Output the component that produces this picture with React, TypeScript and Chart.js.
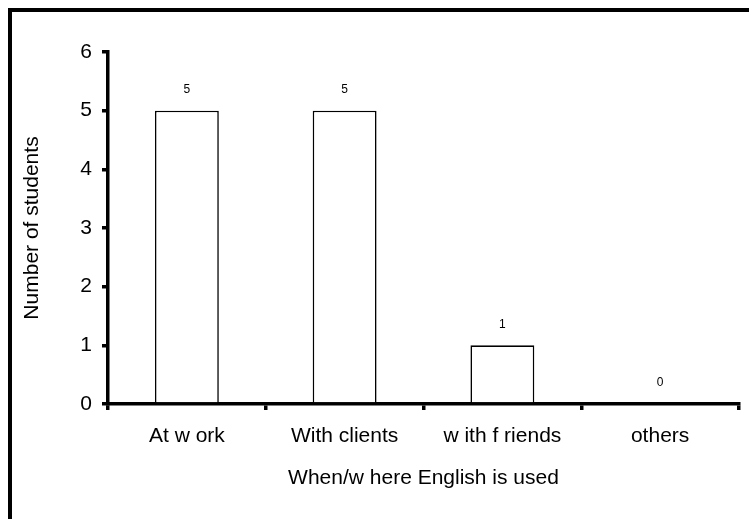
import React, { useEffect, useRef } from "react";
import { Chart, registerables } from "chart.js";

Chart.register(...registerables);

const categories = ["At w ork", "With clients", "w ith f riends", "others"];
const students = [5, 5, 1, 0];
const yMin = 0;
const yMax = 6;
const yStep = 1;
const xTitle = "When/w here English is used";
const yTitle = "Number of students";

const FONT = "'Liberation Sans', Arial, Helvetica, sans-serif";

const valueLabels = {
  id: "valueLabels",
  afterDatasetsDraw(chart: any) {
    const ctx = chart.ctx;
    const meta = chart.getDatasetMeta(0);
    ctx.save();
    ctx.font = `12px ${FONT}`;
    ctx.fillStyle = "#000";
    ctx.textAlign = "center";
    ctx.textBaseline = "middle";
    meta.data.forEach((bar: any, i: number) => {
      ctx.fillText(String(students[i]), bar.x, bar.y - 21);
    });
    ctx.restore();
  },
};

export default function App() {
  const canvasRef = useRef<HTMLCanvasElement | null>(null);

  useEffect(() => {
    if (!canvasRef.current) return;
    const chart = new Chart(canvasRef.current, {
      type: "bar",
      data: {
        labels: categories,
        datasets: [
          {
            data: students,
            backgroundColor: "#ffffff",
            borderColor: "#000000",
            borderWidth: 1.6,
            categoryPercentage: 1,
            barPercentage: 0.405,
          },
        ],
      },
      options: {
        responsive: false,
        animation: false,
        layout: { padding: { top: 40, right: 10, left: 0, bottom: 0 } },
        plugins: {
          legend: { display: false },
          tooltip: { enabled: false },
        },
        scales: {
          x: {
            type: "category",
            offset: true,
            grid: {
              offset: true,
              drawOnChartArea: false,
              drawTicks: true,
              tickLength: 6,
              color: "#000",
              lineWidth: 3.5,
            },
            border: { display: true, color: "#000", width: 3.5 },
            ticks: {
              color: "#000",
              font: { family: FONT, size: 21 },
              padding: 14,
              maxRotation: 0,
              autoSkip: false,
            },
            title: {
              display: true,
              text: xTitle,
              color: "#000",
              font: { family: FONT, size: 21 },
              padding: { top: 0, bottom: 28 },
            },
            afterFit(scale: any) {
              scale.height = 115;
            },
          },
          y: {
            min: yMin,
            max: yMax,
            ticks: {
              stepSize: yStep,
              color: "#000",
              font: { family: FONT, size: 21 },
              padding: 10,
            },
            grid: {
              drawOnChartArea: false,
              drawTicks: true,
              tickLength: 6,
              color: "#000",
              lineWidth: 3.5,
            },
            border: { display: true, color: "#000", width: 3.5 },
            title: {
              display: true,
              text: yTitle,
              color: "#000",
              font: { family: FONT, size: 21 },
              padding: { top: 8, bottom: 0 },
            },
            afterFit(scale: any) {
              scale.width = 96;
            },
          },
        },
      },
      plugins: [valueLabels],
    });
    return () => chart.destroy();
  }, []);

  return (
    <div
      style={{
        position: "fixed",
        left: 8,
        top: 8,
        width: 741,
        height: 511,
        boxSizing: "border-box",
        borderTop: "4px solid #000",
        borderLeft: "4px solid #000",
        background: "#fff",
      }}
    >
      <canvas ref={canvasRef} width={737} height={507} style={{ display: "block" }} />
    </div>
  );
}
